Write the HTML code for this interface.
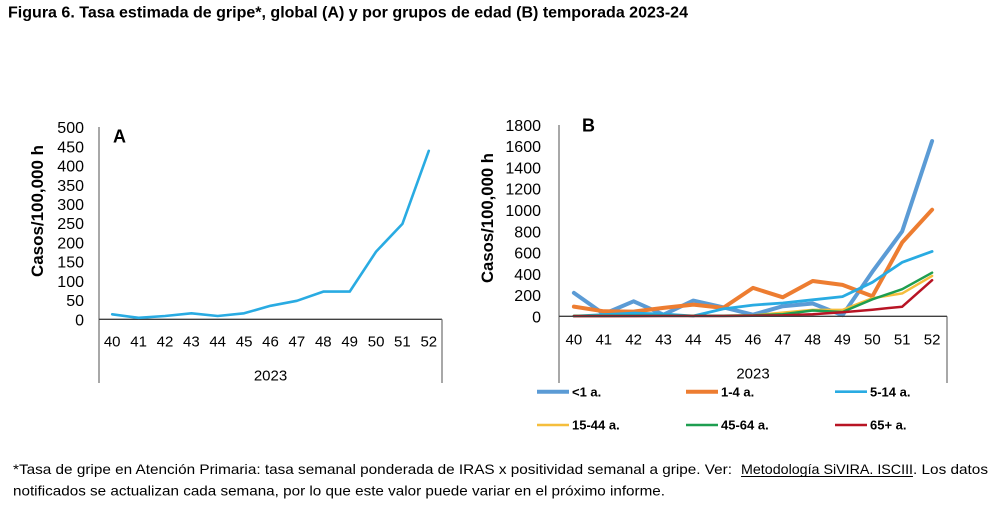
<!DOCTYPE html>
<html>
<head>
<meta charset="utf-8">
<style>
  html, body { margin: 0; padding: 0; background: #ffffff; }
  svg { display: block; }
  text { font-family: "Liberation Sans", Arial, sans-serif; fill: #000; }
</style>
</head>
<body>
<svg width="998" height="521" viewBox="0 0 998 521" xmlns="http://www.w3.org/2000/svg">
  <rect x="0" y="0" width="998" height="521" fill="#ffffff"/>

  <!-- Title -->
  <text x="8" y="17.5" font-size="16" font-weight="bold" textLength="680" lengthAdjust="spacingAndGlyphs">Figura 6. Tasa estimada de gripe*, global (A) y por grupos de edad (B) temporada 2023-24</text>

  <!-- ================= CHART A ================= -->
  <g>
    <line x1="99" y1="127" x2="99" y2="383" stroke="#7a7a7a" stroke-width="1.3"/>
    <line x1="99" y1="319.3" x2="442" y2="319.3" stroke="#404040" stroke-width="1.3"/>
    <line x1="442" y1="319.3" x2="442" y2="383" stroke="#7a7a7a" stroke-width="1.3"/>

    <g font-size="16" text-anchor="end">
      <text x="84" y="325.3">0</text>
      <text x="84" y="306.1">50</text>
      <text x="84" y="286.9">100</text>
      <text x="84" y="267.6">150</text>
      <text x="84" y="248.4">200</text>
      <text x="84" y="229.2">250</text>
      <text x="84" y="210">300</text>
      <text x="84" y="190.8">350</text>
      <text x="84" y="171.5">400</text>
      <text x="84" y="152.3">450</text>
      <text x="84" y="133.1">500</text>
    </g>

    <text transform="translate(43,211) rotate(-90)" text-anchor="middle" font-size="17" font-weight="bold" textLength="132" lengthAdjust="spacingAndGlyphs">Casos/100,000 h</text>

    <g font-size="15" text-anchor="middle">
      <text x="112.2" y="346.5">40</text>
      <text x="138.6" y="346.5">41</text>
      <text x="165.0" y="346.5">42</text>
      <text x="191.4" y="346.5">43</text>
      <text x="217.7" y="346.5">44</text>
      <text x="244.1" y="346.5">45</text>
      <text x="270.5" y="346.5">46</text>
      <text x="296.9" y="346.5">47</text>
      <text x="323.3" y="346.5">48</text>
      <text x="349.7" y="346.5">49</text>
      <text x="376.1" y="346.5">50</text>
      <text x="402.4" y="346.5">51</text>
      <text x="428.8" y="346.5">52</text>
      <text x="270.5" y="380.5">2023</text>
    </g>

    <text x="113" y="142.5" font-size="18" font-weight="bold">A</text>

    <polyline fill="none" stroke="#29ABE2" stroke-width="2.6" stroke-linejoin="round" stroke-linecap="round"
      points="112.2,314.3 138.6,317.8 165.0,316.0 191.4,313.3 217.7,316.0 244.1,313.3 270.5,305.8 296.9,300.8 323.3,291.6 349.7,291.6 376.1,251.6 402.4,223.9 428.8,150.8"/>
  </g>

  <!-- ================= CHART B ================= -->
  <g>
    <line x1="559" y1="125" x2="559" y2="383" stroke="#7a7a7a" stroke-width="1.3"/>
    <line x1="947" y1="316.3" x2="947" y2="383" stroke="#7a7a7a" stroke-width="1.3"/>

    <g font-size="16" text-anchor="end">
      <text x="541" y="322.3">0</text>
      <text x="541" y="301">200</text>
      <text x="541" y="279.8">400</text>
      <text x="541" y="258.5">600</text>
      <text x="541" y="237.3">800</text>
      <text x="541" y="216">1000</text>
      <text x="541" y="194.7">1200</text>
      <text x="541" y="173.5">1400</text>
      <text x="541" y="152.2">1600</text>
      <text x="541" y="131">1800</text>
    </g>

    <text transform="translate(493,218) rotate(-90)" text-anchor="middle" font-size="17" font-weight="bold" textLength="130" lengthAdjust="spacingAndGlyphs">Casos/100,000 h</text>

    <g font-size="15" text-anchor="middle">
      <text x="573.9" y="344.5">40</text>
      <text x="603.8" y="344.5">41</text>
      <text x="633.6" y="344.5">42</text>
      <text x="663.5" y="344.5">43</text>
      <text x="693.3" y="344.5">44</text>
      <text x="723.2" y="344.5">45</text>
      <text x="753.0" y="344.5">46</text>
      <text x="782.8" y="344.5">47</text>
      <text x="812.7" y="344.5">48</text>
      <text x="842.5" y="344.5">49</text>
      <text x="872.4" y="344.5">50</text>
      <text x="902.2" y="344.5">51</text>
      <text x="932.1" y="344.5">52</text>
      <text x="753" y="378.5">2023</text>
    </g>

    <text x="582" y="131.5" font-size="18" font-weight="bold">B</text>

    <g fill="none" stroke-linejoin="round" stroke-linecap="round">
      <polyline stroke="#5B9BD5" stroke-width="4"
        points="573.9,292.9 603.8,314.0 633.6,301.3 663.5,314.7 693.3,300.6 723.2,307.3 753.0,314.7 782.8,306.2 812.7,303.5 842.5,315.2 872.4,271.7 902.2,231.3 932.1,141.0"/>
      <polyline stroke="#ED7D31" stroke-width="4"
        points="573.9,306.6 603.8,311.3 633.6,311.6 663.5,307.9 693.3,304.6 723.2,307.9 753.0,287.9 782.8,297.3 812.7,281.0 842.5,284.9 872.4,296.3 902.2,242.4 932.1,209.7"/>
      <polyline stroke="#29ABE2" stroke-width="2.8"
        points="573.9,316.1 603.8,314.7 633.6,313.1 663.5,314.0 693.3,316.0 723.2,308.9 753.0,305.1 782.8,303.0 812.7,299.8 842.5,296.6 872.4,282.3 902.2,262.3 932.1,251.4"/>
      <polyline stroke="#F5BE3C" stroke-width="2.5"
        points="573.9,316.0 603.8,316.0 633.6,315.8 663.5,315.8 693.3,315.8 723.2,315.8 753.0,315.4 782.8,312.6 812.7,309.9 842.5,309.9 872.4,298.2 902.2,293.4 932.1,275.9"/>
      <polyline stroke="#1E9E50" stroke-width="2.5"
        points="573.9,315.9 603.8,315.9 633.6,315.8 663.5,315.7 693.3,315.7 723.2,315.7 753.0,315.4 782.8,314.2 812.7,310.5 842.5,312.0 872.4,299.3 902.2,289.2 932.1,272.7"/>
      <polyline stroke="#B81424" stroke-width="2.5"
        points="573.9,316.1 603.8,316.1 633.6,316.1 663.5,316.0 693.3,316.0 723.2,316.0 753.0,315.8 782.8,315.4 812.7,314.2 842.5,312.3 872.4,309.7 902.2,306.7 932.1,280.2"/>
    </g>

    <line x1="559" y1="316.3" x2="947" y2="316.3" stroke="#404040" stroke-width="1.3"/>

    <g font-size="13" font-weight="bold">
      <line x1="537" y1="391.7" x2="569" y2="391.7" stroke="#5B9BD5" stroke-width="4"/>
      <text x="572" y="396.3">&lt;1 a.</text>
      <line x1="686" y1="391.7" x2="718" y2="391.7" stroke="#ED7D31" stroke-width="4"/>
      <text x="721" y="396.3">1-4 a.</text>
      <line x1="835" y1="391.7" x2="867" y2="391.7" stroke="#29ABE2" stroke-width="2.6"/>
      <text x="870" y="396.3">5-14 a.</text>

      <line x1="537" y1="425" x2="569" y2="425" stroke="#F5BE3C" stroke-width="2.6"/>
      <text x="572" y="429.6">15-44 a.</text>
      <line x1="686" y1="425" x2="718" y2="425" stroke="#1E9E50" stroke-width="2.6"/>
      <text x="721" y="429.6">45-64 a.</text>
      <line x1="835" y1="425" x2="867" y2="425" stroke="#B81424" stroke-width="2.6"/>
      <text x="870" y="429.6">65+ a.</text>
    </g>
  </g>

  <!-- ================= FOOTNOTE ================= -->
  <g font-size="14">
    <text x="13" y="474" textLength="719" lengthAdjust="spacingAndGlyphs">*Tasa de gripe en Atención Primaria: tasa semanal ponderada de IRAS x positividad semanal a gripe. Ver:</text>
    <text x="741" y="474" textLength="172" lengthAdjust="spacingAndGlyphs">Metodología SiVIRA. ISCIII</text>
    <line x1="741" y1="476.5" x2="913" y2="476.5" stroke="#000" stroke-width="1"/>
    <text x="913" y="474" textLength="75" lengthAdjust="spacingAndGlyphs">. Los datos</text>
    <text x="13" y="495.5" textLength="652" lengthAdjust="spacingAndGlyphs">notificados se actualizan cada semana, por lo que este valor puede variar en el próximo informe.</text>
  </g>
</svg>
</body>
</html>
